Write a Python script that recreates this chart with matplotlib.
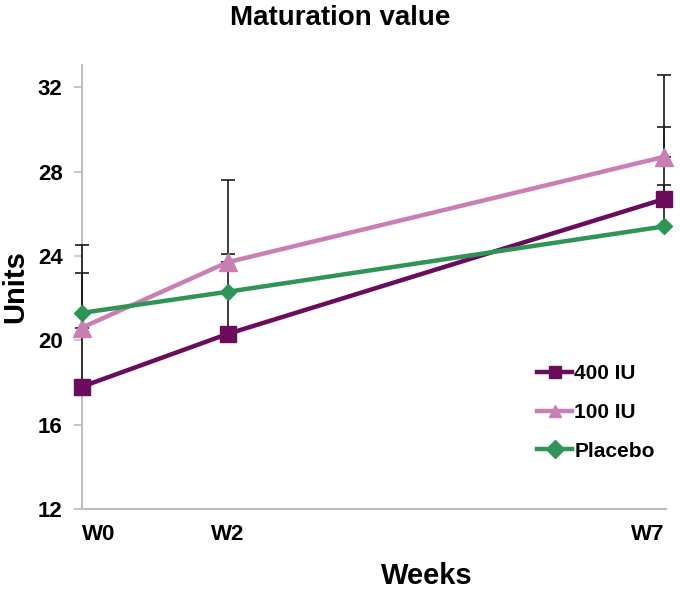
import numpy as np
import matplotlib
matplotlib.use('Agg')
import matplotlib.pyplot as plt

plt.rcParams['font.family'] = ['Liberation Sans', 'DejaVu Sans']
plt.rcParams['font.weight'] = 'bold'

weeks = ['W0', 'W2', 'W7']
x_pos = [0, 1, 4]

iu400 = [17.8, 20.3, 26.7]
iu100 = [20.6, 23.7, 28.7]
placebo = [21.3, 22.3, 25.4]

# upper error only (nan = not drawn)
err400 = [6.7, 3.8, 3.4]
err100 = [2.6, 3.9, 3.9]
err_placebo = [np.nan, np.nan, 1.95]

series = [
    ('400 IU', iu400, err400, '#6a0b5c', 's', 12),
    ('100 IU', iu100, err100, '#c97fb3', '^', 13),
    ('Placebo', placebo, err_placebo, '#2e9556', 'D', 8),
]

fig = plt.figure(figsize=(6.8, 5.89), dpi=100)
ax = fig.add_axes([0.1206, 0.1358, 0.8584, 0.7538])

for name, vals, err, col, mk, ms in series:
    vals = np.array(vals)
    err = np.array(err)
    eb = ax.errorbar(x_pos, vals, yerr=[np.zeros_like(err), err], fmt='none',
                     ecolor='#1a1a1a', elinewidth=1.2, capsize=5, capthick=1.2,
                     zorder=4)
    for art in eb.lines[1] + eb.lines[2]:
        art.set_clip_on(False)
    ax.plot(x_pos, vals, color=col, lw=3.2, marker=mk, ms=ms,
            label=name, zorder=5, clip_on=False)

ax.set_xlim(0, 4.01)
ax.set_ylim(12, 33.05)
ax.set_yticks([12, 16, 20, 24, 28, 32])
ax.set_xticks(x_pos)
ax.set_xticklabels(weeks)
for lbl, ha in zip(ax.get_xticklabels(), ['left', 'center', 'right']):
    lbl.set_ha(ha)

for s in ['top', 'right']:
    ax.spines[s].set_visible(False)
for s in ['left', 'bottom']:
    ax.spines[s].set_color('#bdbdbd')
    ax.spines[s].set_linewidth(1.5)
    ax.spines[s].set_zorder(1)

ax.tick_params(axis='y', direction='out', length=6, color='#bdbdbd',
               width=1.2, labelsize=16, pad=8)
ax.tick_params(axis='x', length=0, labelsize=16, pad=11)

ax.set_ylabel('Units', fontsize=21, fontweight='bold', labelpad=6)
ax.set_xlabel('Weeks', fontsize=21, fontweight='bold')
ax.xaxis.set_label_coords(0.59, -0.12)
fig.text(0.5, 0.97, 'Maturation value', fontsize=20, fontweight='bold',
         ha='center', va='center')

leg = ax.legend(loc='upper left', bbox_to_anchor=(0.765, 0.345), frameon=False,
                fontsize=15, handlelength=1.7, handletextpad=0.1,
                labelspacing=0.95, borderaxespad=0)
for h in leg.legend_handles:
    h.set_markersize(9)

fig.savefig('out.png', dpi=100)
